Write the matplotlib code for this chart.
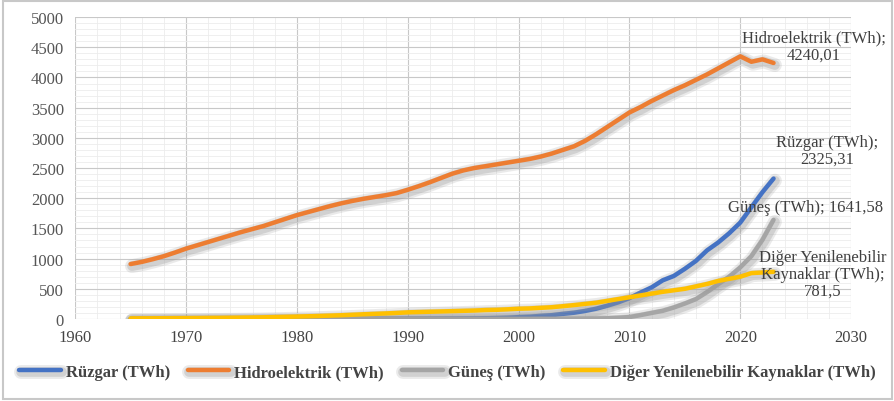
import numpy as np
import matplotlib.pyplot as plt
import matplotlib.patheffects as pe
from matplotlib.ticker import MultipleLocator

plt.rcParams['font.family'] = ['Liberation Serif', 'DejaVu Serif']

years = list(range(1965, 2024))

hydro = [910, 945, 990, 1040, 1100, 1165, 1220, 1275, 1330, 1385,
         1440, 1490, 1540, 1600, 1660, 1720, 1770, 1820, 1870, 1915,
         1955, 1990, 2020, 2050, 2085, 2140, 2200, 2265, 2335, 2405,
         2460, 2500, 2530, 2560, 2590, 2620, 2650, 2690, 2740, 2800,
         2860, 2950, 3060, 3180, 3300, 3420, 3510, 3610, 3700, 3790,
         3870, 3960, 4050, 4150, 4250, 4350, 4260, 4300, 4240.01]

wind = [0, 0, 0, 0, 0, 0, 0, 0, 0, 0,
        0, 0, 0, 0, 0, 0, 0, 0, 0, 1,
        1, 1, 2, 3, 3, 4, 4, 5, 6, 7,
        8, 10, 12, 16, 21, 31, 38, 52, 63, 85,
        104, 133, 170, 220, 276, 346, 437, 523, 640, 712,
        831, 962, 1136, 1266, 1420, 1597, 1850, 2100, 2325.31]

solar = [0, 0, 0, 0, 0, 0, 0, 0, 0, 0,
         0, 0, 0, 0, 0, 0, 0, 0, 0, 0,
         0, 0, 0, 0, 0, 0, 0, 0, 0, 0,
         0, 0, 0, 1, 1, 1, 1, 2, 2, 3,
         4, 6, 8, 12, 20, 32, 64, 100, 135, 190,
         256, 329, 445, 575, 700, 855, 1040, 1310, 1641.58]

other = [10, 11, 12, 13, 14, 15, 16, 18, 19, 21,
         23, 25, 28, 32, 36, 40, 45, 50, 56, 62,
         70, 78, 85, 92, 100, 110, 115, 120, 125, 130,
         135, 140, 148, 152, 160, 170, 175, 185, 195, 212,
         230, 250, 270, 300, 330, 360, 390, 420, 450, 475,
         500, 540, 580, 630, 665, 700, 760, 770, 781.5]

names = ['Rüzgar (TWh)', 'Hidroelektrik (TWh)', 'Güneş (TWh)',
         'Diğer Yenilenebilir Kaynaklar (TWh)']
colors = ['#4472c4', '#ed7d31', '#a5a5a5', '#ffc000']
series = [wind, hydro, solar, other]

fig = plt.figure(figsize=(8.95, 4.02), dpi=100)
ax = fig.add_axes([0.084, 0.204, 0.867, 0.751])

shadow = [pe.SimpleLineShadow(offset=(1, -1.5), shadow_color='#999999',
                              alpha=0.3, linewidth=7),
          pe.SimpleLineShadow(offset=(1, -1.5), shadow_color='#999999',
                              alpha=0.2, linewidth=10),
          pe.Normal()]
for s, c, n in zip(series, colors, names):
    ax.plot(years, s, color=c, lw=3.2, label=n, path_effects=shadow,
            solid_capstyle='round', solid_joinstyle='round')

ax.set_xlim(1960, 2030)
ax.set_ylim(0, 5000)
ax.xaxis.set_major_locator(MultipleLocator(10))
ax.yaxis.set_major_locator(MultipleLocator(500))
ax.xaxis.set_minor_locator(MultipleLocator(2))
ax.yaxis.set_minor_locator(MultipleLocator(100))
ax.grid(which='major', color='#c8c8c8', lw=0.8)
ax.grid(which='minor', color='#ececec', lw=0.6)
ax.set_axisbelow(True)
for sp in ax.spines.values():
    sp.set_visible(False)
ax.tick_params(which='both', length=0, colors='#555555', labelsize=12)
ax.tick_params(axis='y', pad=8)
ax.tick_params(axis='x', pad=7, labelcolor='#444444')

txt = dict(ha='center', va='center', fontsize=12, color='#404040',
           linespacing=1.05, annotation_clip=False)
ax.annotate('Hidroelektrik (TWh);\n4240,01', xy=(2023, hydro[-1]),
            xytext=(2026.6, 4520), **txt)
ax.annotate('Rüzgar (TWh);\n2325,31', xy=(2023, wind[-1]),
            xytext=(2027.8, 2800), **txt)
ax.annotate('Güneş (TWh); 1641,58', xy=(2023, solar[-1]),
            xytext=(2025.9, 1860), **txt)
ax.annotate('Diğer Yenilenebilir\nKaynaklar (TWh);\n781,5', xy=(2023, other[-1]),
            xytext=(2027.4, 750), **txt)

leg = fig.legend(loc='lower center', bbox_to_anchor=(0.5, 0.015), ncol=4,
                 frameon=False, prop={'weight': 'bold', 'size': 12},
                 handlelength=2.5, columnspacing=1.05, handletextpad=0.3)
for t in leg.get_texts():
    t.set_color('#444444')

fig.patches.append(plt.Rectangle((0.003, 0.005), 0.994, 0.99, transform=fig.transFigure,
                                 fill=False, edgecolor='#c8c8c8', lw=1.5))

fig.savefig('out.png', dpi=100)
